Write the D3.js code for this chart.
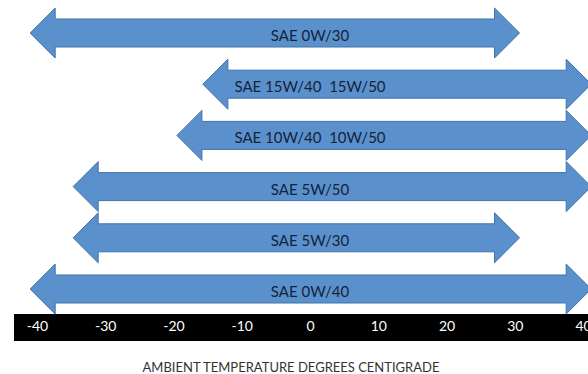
<!DOCTYPE html>
<html>
<head>
<meta charset="utf-8">
<script src="https://cdn.jsdelivr.net/npm/d3@7"></script>
<style>
  body { margin: 0; background: #fff; }
  svg { display: block; font-family: Lato, "Open Sans", sans-serif; }
</style>
</head>
<body>
<div id="chart"></div>
<script>
// Oil grades and the temperature span each arrow covers (deg C)
const grades = ["SAE 0W/30", "SAE 15W/40  15W/50", "SAE 10W/40  10W/50", "SAE 5W/50", "SAE 5W/30", "SAE 0W/40"];
const fromTemp = [-41, -15.7, -19.5, -34.7, -34.7, -41];
const toTemp = [30.7, 41.2, 41.2, 41.2, 30.7, 41.2];
const tickTemps = [-40, -30, -20, -10, 0, 10, 20, 30, 40];

const width = 588, height = 374;

const svg = d3.select("#chart")
  .append("svg")
    .attr("width", width)
    .attr("height", height);

const x = d3.scaleLinear()
  .domain([-40, 40])
  .range([37, 583]);

const y = d3.scalePoint()
  .domain(grades)
  .range([33, 289]);

const headLen = 25, headHalf = 25, shaftHalf = 14;

function arrowPath(i) {
  const l = x(fromTemp[i]), r = x(toTemp[i]), c = y(grades[i]);
  const p = d3.path();
  p.moveTo(l, c);
  p.lineTo(l + headLen, c - headHalf);
  p.lineTo(l + headLen, c - shaftHalf);
  p.lineTo(r - headLen, c - shaftHalf);
  p.lineTo(r - headLen, c - headHalf);
  p.lineTo(r, c);
  p.lineTo(r - headLen, c + headHalf);
  p.lineTo(r - headLen, c + shaftHalf);
  p.lineTo(l + headLen, c + shaftHalf);
  p.lineTo(l + headLen, c + headHalf);
  p.closePath();
  return p.toString();
}

// arrows
svg.selectAll(".arrow")
  .data(grades)
  .enter().append("path")
    .attr("class", "arrow")
    .attr("d", (d, i) => arrowPath(i))
    .attr("fill", "#5a91cc")
    .attr("stroke", "#4173a8")
    .attr("stroke-width", 1);

svg.selectAll(".grade")
  .data(grades)
  .enter().append("text")
    .attr("class", "grade")
    .attr("x", x(0))
    .attr("y", d => y(d) + 8)
    .attr("text-anchor", "middle")
    .attr("xml:space", "preserve")
    .style("white-space", "pre")
    .style("font-size", "15px")
    .style("fill", "#16223a")
    .text(d => d);

// black temperature band
svg.append("rect")
  .attr("x", 14)
  .attr("y", 314)
  .attr("width", width - 14)
  .attr("height", 27)
  .attr("fill", "#000");

const axis = svg.append("g")
  .attr("transform", "translate(0,314)")
  .call(d3.axisBottom(x).tickValues(tickTemps).tickSize(0).tickPadding(7).tickFormat(d => String(d)));

axis.select(".domain").remove();
axis.selectAll("text")
  .style("font-family", "Lato, 'Open Sans', sans-serif")
  .style("font-size", "14px")
  .style("fill", "#fff");

svg.append("text")
  .attr("x", 291)
  .attr("y", 372)
  .attr("text-anchor", "middle")
  .style("font-size", "13px")
  .style("fill", "#333")
  .text("AMBIENT TEMPERATURE DEGREES CENTIGRADE");
</script>
</body>
</html>
